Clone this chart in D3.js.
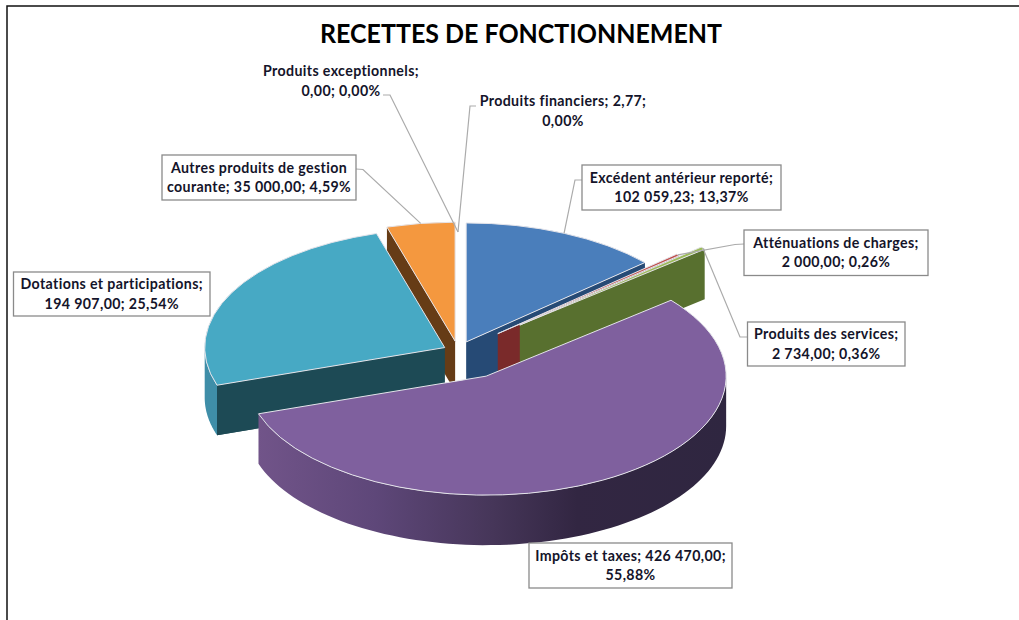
<!DOCTYPE html>
<html>
<head>
<meta charset="utf-8">
<script src="https://cdn.jsdelivr.net/npm/d3@7"></script>
<style>
  html, body { margin: 0; padding: 0; background: #fff; }
  svg { display: block; }
  text { font-family: Lato, "Open Sans", sans-serif; }
</style>
</head>
<body>
<div id="chart"></div>
<script>
const titleText = "RECETTES DE FONCTIONNEMENT";

const categories = ["Excédent antérieur reporté", "Atténuations de charges", "Produits des services",
    "Impôts et taxes", "Dotations et participations", "Autres produits de gestion courante",
    "Produits financiers", "Produits exceptionnels"];
const values = [102059.23, 2000, 2734, 426470, 194907, 35000, 2.77, 0];
const labelLines = [
    ["Excédent antérieur reporté;", "102 059,23; 13,37%"],
    ["Atténuations de charges;", "2 000,00; 0,26%"],
    ["Produits des services;", "2 734,00; 0,36%"],
    ["Impôts et taxes; 426 470,00;", "55,88%"],
    ["Dotations et participations;", "194 907,00; 25,54%"],
    ["Autres produits de gestion", "courante; 35 000,00; 4,59%"],
    ["Produits financiers; 2,77;", "0,00%"],
    ["Produits exceptionnels;", "0,00; 0,00%"]
];

// colours per slice: top, radial wall, outer wall
const topColors = ["#4a7ebb", "#c0504d", "#9bbb59", "#7f609e", "#47a9c4", "#f4983f", "#4a7ebb", "#c0504d"];
const wallColors = ["#264a75", "#7a2a2a", "#58702f", "#3a2c4e", "#1d4a55", "#663c16", "#264a75", "#7a2a2a"];
const rimColors = ["#264a75", "#7a2a2a", "#58702f", "url(#purpleRim)", "#3f8ea8", "#663c16", "#264a75", "#7a2a2a"];

// how far each slice is pulled out of the pie, and painter order back to front
const explode = [20, 53, 81, 58, 15, 20, 0, 0];
const drawOrder = [5, 4, 0, 1, 2, 3];

// label boxes: x0, y0, x1, y1, boxed or not, elbow of the leader line (null = no leader)
const labelBoxes = [
    { x0: 582, y0: 165, x1: 781, y1: 210, boxed: true, from: [582, 180], elbow: [575, 180] },
    { x0: 744, y0: 230, x1: 928, y1: 275.5, boxed: true, from: [744, 244], elbow: [735, 244.5] },
    { x0: 747.5, y0: 322, x1: 905, y1: 366, boxed: true, from: [747.5, 337], elbow: [740, 337] },
    { x0: 529, y0: 543, x1: 732, y1: 588, boxed: true },
    { x0: 13.5, y0: 272, x1: 210, y1: 316, boxed: true },
    { x0: 162, y0: 155, x1: 356, y1: 200, boxed: true, from: [356, 169], elbow: [363, 169.5] },
    { x0: 474, y0: 91, x1: 652, y1: 131, boxed: false, from: [476, 106], elbow: [470, 106] },
    { x0: 255, y0: 61, x1: 427, y1: 101, boxed: false, from: [383, 95], elbow: [390, 95] }
];

const width = 1019, height = 620;
const center = [458, 351];
const rx = 240, ry = 119, k = ry / rx;
const depth = 50;

const svg = d3.select("#chart").append("svg")
    .attr("width", width)
    .attr("height", height);

const grad = svg.append("defs").append("linearGradient")
    .attr("id", "purpleRim")
    .attr("gradientUnits", "userSpaceOnUse")
    .attr("x1", 258).attr("x2", 727).attr("y1", 0).attr("y2", 0);
grad.selectAll("stop")
    .data([[0, "#715489"], [0.25, "#5e4779"], [0.5, "#463659"], [0.68, "#322642"], [1, "#2f2640"]])
    .join("stop")
    .attr("offset", d => d[0])
    .attr("stop-color", d => d[1]);

// frame of the screenshot
svg.append("path")
    .attr("d", `M${width},6 H7 V${height}`)
    .attr("fill", "none")
    .attr("stroke", "#111")
    .attr("stroke-width", 1.5);

svg.append("text")
    .attr("x", 521)
    .attr("y", 43)
    .attr("text-anchor", "middle")
    .attr("textLength", 402)
    .attr("lengthAdjust", "spacingAndGlyphs")
    .style("font-size", "27.5px")
    .style("font-weight", "bold")
    .attr("fill", "#000")
    .text(titleText);

const pie = d3.pie().sort(null).startAngle(0).endAngle(2 * Math.PI);
const slices = pie(values);

const arc = d3.arc().innerRadius(0).outerRadius(rx);
const line = d3.line();

function apexOf(s, i) {
    const mid = (s.startAngle + s.endAngle) / 2;
    return [center[0] + explode[i] * Math.sin(mid), center[1] - explode[i] * k * Math.cos(mid)];
}

function rimPoint(apex, a) {
    return [apex[0] + rx * Math.sin(a), apex[1] - ry * Math.cos(a)];
}

function radialWall(apex, a) {
    const p = rimPoint(apex, a);
    return line([apex, p, [p[0], p[1] + depth], [apex[0], apex[1] + depth]]) + "Z";
}

// outer wall only shows on the front half of the ellipse
function rimWall(apex, a0, a1) {
    const from = Math.max(a0, Math.PI / 2), to = Math.min(a1, 3 * Math.PI / 2);
    if (to <= from) return null;
    const n = 80;
    const upper = d3.range(n + 1).map(j => rimPoint(apex, from + (to - from) * j / n));
    const lower = upper.slice().reverse().map(p => [p[0], p[1] + depth]);
    return line(upper.concat(lower)) + "Z";
}

drawOrder.forEach(i => {
    const s = slices[i];
    const apex = apexOf(s, i);
    const g = svg.append("g");

    // radial walls: the one facing the viewer depends on which side of the pie the slice sits
    const facing = s.startAngle > Math.PI ? s.startAngle : s.endAngle;
    const mid = (s.startAngle + s.endAngle) / 2;
    if (mid < Math.PI / 2 || mid > Math.PI * 1.5) {
        g.append("path").attr("d", radialWall(apex, facing)).attr("fill", wallColors[i]);
    }
    const rim = rimWall(apex, s.startAngle, s.endAngle);
    if (rim) g.append("path").attr("d", rim).attr("fill", rimColors[i]);
    if (i === 4) {
        g.append("path").attr("d", radialWall(apex, s.startAngle)).attr("fill", wallColors[i]);
    }

    g.append("path")
        .attr("d", arc(s))
        .attr("transform", `translate(${apex[0]},${apex[1]}) scale(1,${k})`)
        .attr("fill", topColors[i])
        .attr("stroke", "#e4e4ea")
        .attr("stroke-width", 1)
        .attr("vector-effect", "non-scaling-stroke");
});

// leader lines end on the outer rim at the middle of their slice
labelBoxes.forEach((b, i) => {
    if (!b.from) return;
    const s = slices[i];
    const tip = rimPoint(apexOf(s, i), (s.startAngle + s.endAngle) / 2);
    svg.append("path")
        .attr("d", line([b.from, b.elbow, tip]))
        .attr("fill", "none")
        .attr("stroke", "#ababab")
        .attr("stroke-width", 1.2);
});

labelBoxes.forEach((b, i) => {
    const g = svg.append("g");
    if (b.boxed) {
        g.append("rect")
            .attr("x", b.x0).attr("y", b.y0)
            .attr("width", b.x1 - b.x0).attr("height", b.y1 - b.y0)
            .attr("fill", "#fff")
            .attr("stroke", "#8a8a8a")
            .attr("stroke-width", 1.3);
    }
    const cx = (b.x0 + b.x1) / 2, cy = (b.y0 + b.y1) / 2;
    g.selectAll("text")
        .data(labelLines[i])
        .join("text")
        .attr("x", cx)
        .attr("y", (d, j) => cy - 5 + j * 19.6)
        .attr("text-anchor", "middle")
        .attr("fill", "#14142a")
        .style("font-size", "14.2px")
        .style("letter-spacing", "0.37px")
        .style("font-weight", "bold")
        .text(d => d);
});
</script>
</body>
</html>
